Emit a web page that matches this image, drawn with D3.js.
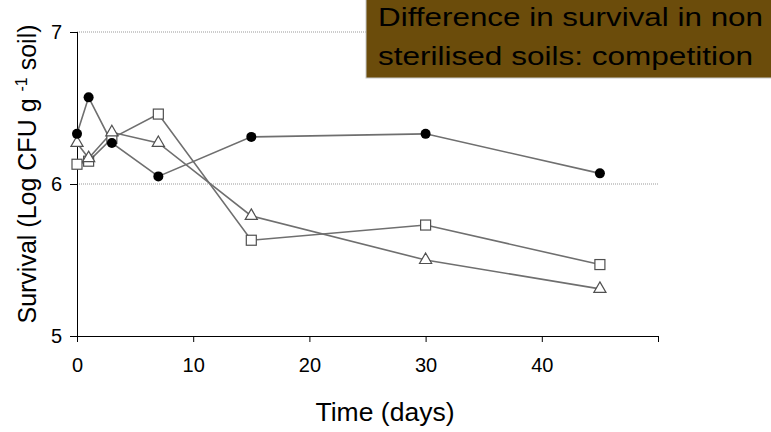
<!DOCTYPE html>
<html><head><meta charset="utf-8">
<script src="https://cdn.jsdelivr.net/npm/d3@7"></script>
<style>body{margin:0;background:#fff;}svg{display:block;font-family:"Liberation Sans",Arial,sans-serif;}</style>
</head><body>
<svg id="c" width="771" height="432"></svg>
<script>
const days = [0, 1, 3, 7, 15, 30, 45];
const circleSeries = [6.33, 6.57, 6.27, 6.05, 6.31, 6.33, 6.07];
const squareSeries = [6.13, 6.15, 6.30, 6.46, 5.63, 5.73, 5.47];
const triangleSeries = [6.27, 6.17, 6.34, 6.27, 5.79, 5.50, 5.31];
const xTicks = [0, 10, 20, 30, 40];
const yTicks = [5, 6, 7];
const gridValues = [6, 7];
const titleLines = ["Difference in survival in non", "sterilised soils: competition"];

const svg = d3.select("#c");
const x = d3.scaleLinear().domain([0, 50]).range([77, 658]);
const y = d3.scaleLinear().domain([5, 7]).range([336, 32]);

// gridlines
svg.append("g").selectAll("line").data(gridValues).join("line")
  .attr("x1", x(0)).attr("x2", x(50))
  .attr("y1", d => y(d)).attr("y2", d => y(d))
  .attr("stroke", "#999").attr("stroke-width", 1).attr("stroke-dasharray", "1,1");

// axes
const xAxis = d3.axisBottom(x).tickValues([0,10,20,30,40,50]).tickSize(6).tickFormat(d => xTicks.includes(d) ? d : "").tickPadding(16);
const gx = svg.append("g").attr("transform", `translate(0,${y(5)})`).call(xAxis);
gx.select(".domain").attr("d", `M${x(0)-6},0.5H${x(50)}`).attr("stroke", "#000");
gx.selectAll(".tick line").attr("stroke", "#000");
gx.selectAll("text").attr("font-size", 20).attr("fill", "#000").attr("font-family", "Liberation Sans, Arial, sans-serif");

const yAxis = d3.axisLeft(y).tickValues(yTicks).tickSize(7).tickFormat(d3.format("d")).tickPadding(8);
const gy = svg.append("g").attr("transform", `translate(${x(0)},0)`).call(yAxis);
gy.select(".domain").attr("d", `M0.5,${y(7)}V${y(5)+6}`).attr("stroke", "#000");
gy.selectAll(".tick line").attr("stroke", "#000");
gy.selectAll("text").attr("font-size", 20).attr("fill", "#000").attr("font-family", "Liberation Sans, Arial, sans-serif");

const line = d3.line().x((d, i) => x(days[i])).y(d => y(d));
const lineColor = "#6f6f6f";
[squareSeries, triangleSeries, circleSeries].forEach(s => {
  svg.append("path").datum(s).attr("d", line).attr("fill", "none")
    .attr("stroke", lineColor).attr("stroke-width", 1.6);
});

// squares
svg.append("g").selectAll("rect").data(squareSeries).join("rect")
  .attr("x", (d, i) => x(days[i]) - 5).attr("y", d => y(d) - 5)
  .attr("width", 10).attr("height", 10)
  .attr("fill", "#fff").attr("stroke", "#505050").attr("stroke-width", 1.2);
// triangles
const tri = d3.symbol().type(d3.symbolTriangle).size(64);
svg.append("g").selectAll("path").data(triangleSeries).join("path")
  .attr("d", tri)
  .attr("transform", (d, i) => `translate(${x(days[i])},${y(d)})`)
  .attr("fill", "#fff").attr("stroke", "#505050").attr("stroke-width", 1.2);
// circles
svg.append("g").selectAll("circle").data(circleSeries).join("circle")
  .attr("cx", (d, i) => x(days[i])).attr("cy", d => y(d)).attr("r", 5)
  .attr("fill", "#000");

// axis titles
svg.append("text").attr("x", 385).attr("y", 421).attr("text-anchor", "middle")
  .attr("font-size", 25).attr("textLength", 139).attr("lengthAdjust", "spacingAndGlyphs")
  .attr("fill", "#000").text("Time (days)");
const yl = svg.append("text").attr("transform", "translate(36,174) rotate(-90)")
  .attr("text-anchor", "middle").attr("font-size", 25).attr("fill", "#000");
yl.append("tspan").text("Survival (Log CFU g ");
yl.append("tspan").attr("font-size", 16).attr("dy", -9).text("-1");
yl.append("tspan").attr("dy", 9).text(" soil)");

// title box
svg.append("rect").attr("x", 366).attr("y", -2).attr("width", 408).attr("height", 80)
  .attr("fill", "#6b4c0b").attr("stroke", "#c8c8c8").attr("stroke-width", 1);
const titleWidths = [385, 375];
svg.append("g").selectAll("text").data(titleLines).join("text")
  .attr("x", 378).attr("y", (d, i) => 26 + i * 39)
  .attr("font-size", 26).attr("textLength", (d, i) => titleWidths[i]).attr("lengthAdjust", "spacingAndGlyphs")
  .attr("fill", "#000").text(d => d);
</script>
</body></html>
